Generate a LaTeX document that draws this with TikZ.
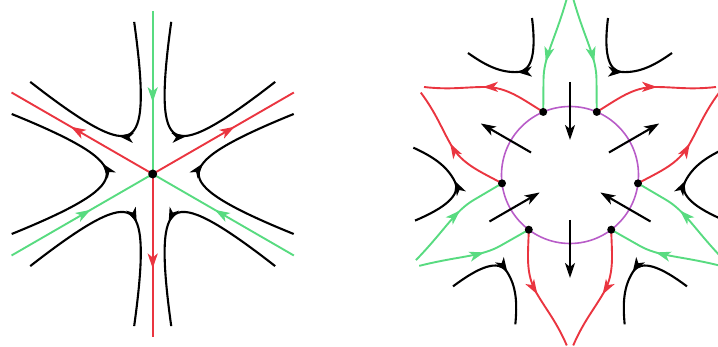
\documentclass[tikz,border=0pt]{standalone}
\usepackage{tikz}
\usetikzlibrary{arrows.meta, calc, decorations.markings}
\definecolor{rosso}{RGB}{234,53,64}
\definecolor{verde}{RGB}{88,219,128}
\definecolor{viola}{RGB}{184,92,200}

\begin{document}
\begin{tikzpicture}[
  x=1pt, y=1pt,
  punta/.tip={Stealth[length=15pt, width=10pt, inset=4pt]},
  traiettoria/.style={black, line width=2.1pt},
  entrante/.style={verde, line width=1.9pt},
  uscente/.style={rosso, line width=1.9pt},
  freccia/.style={postaction={decorate}, decoration={markings,
      mark=at position #1 with {\arrow{punta}}}},
  freccia/.default=0.52,
  punto/.style={circle, fill=black, inner sep=0pt, minimum size=8pt}
]

% Riquadro dell'immagine: taglia i rami che escono dal bordo.
\useasboundingbox (0,0) rectangle (718,347);
\clip (0,0) rectangle (718,347);

% Raggi usati piu' volte
\def\rsella{163}
\def\rcerchio{68.5}

% ---- sella a tre rami (sinistra) -----------------------------------
\coordinate (sella) at (152.7,173);

\foreach \a in {90,210,330}
  \draw[entrante, freccia=0.56] ($(sella)+(\a:\rsella)$) -- (sella);
\foreach \a in {30,150,270}
  \draw[uscente, freccia=0.58] (sella) -- ($(sella)+(\a:\rsella)$);

% orbite iperboliche nei sei settori (verso alternato)
\foreach \c/\s in {0/1,60/-1,120/1,180/-1,240/1,300/-1}
  \draw[traiettoria, freccia=0.55, shift={(sella)}, rotate=\c, yscale=\s]
    (141,-60) .. controls (72,-32) and (46,-15) .. (46,0)
              .. controls (46,15) and (72,32) .. (141,60);

\node[punto, minimum size=9pt] (o) at (sella) {};

% ---- cerchio con sei equilibri (destra) ----------------------------
\coordinate (centro) at (570,172);
\draw[viola, line width=1.6pt] (centro) circle (\rcerchio);

\foreach \r in {0,120,240} {
  \begin{scope}[shift={(centro)}, rotate=\r]
    \coordinate (sx\r) at (113:\rcerchio);
    \coordinate (dx\r) at (67:\rcerchio);

    % rami entranti
    \draw[entrante, freccia=0.57] (-3.3,176) .. controls (-15,135) and (-26.5,118)
      .. (-26.5,95) -- (sx\r);
    \draw[entrante, freccia=0.57] (3.3,176) .. controls (15,135) and (26.5,118)
      .. (26.5,95) -- (dx\r);

    % rami uscenti
    \draw[uscente, freccia=0.53] (sx\r) .. controls (-48,76) and (-63,88) .. (-85,88)
      .. controls (-105,88) and (-120,85) .. (-146,88);
    \draw[uscente, freccia=0.53] (dx\r) .. controls (48,76) and (63,88) .. (85,88)
      .. controls (105,88) and (120,85) .. (146,88);

    % orbite vicino ai punti di sella
    \draw[traiettoria, freccia=0.54] (-38,157) .. controls (-34,125) and (-37,104)
      .. (-52,103) .. controls (-70,102) and (-85,110) .. (-102,122);
    \draw[traiettoria, freccia=0.54] (38,157) .. controls (34,125) and (37,104)
      .. (52,103) .. controls (70,102) and (85,110) .. (102,122);

    % vettori all'interno
    \draw[traiettoria, -punta] (0,93) -- (0,35);
    \draw[traiettoria, -punta] (0,-45) -- (0,-103);
  \end{scope}
}

\foreach \r in {0,120,240} {
  \node[punto] (psx\r) at (sx\r) {};
  \node[punto] (pdx\r) at (dx\r) {};
}

\end{tikzpicture}
\end{document}
